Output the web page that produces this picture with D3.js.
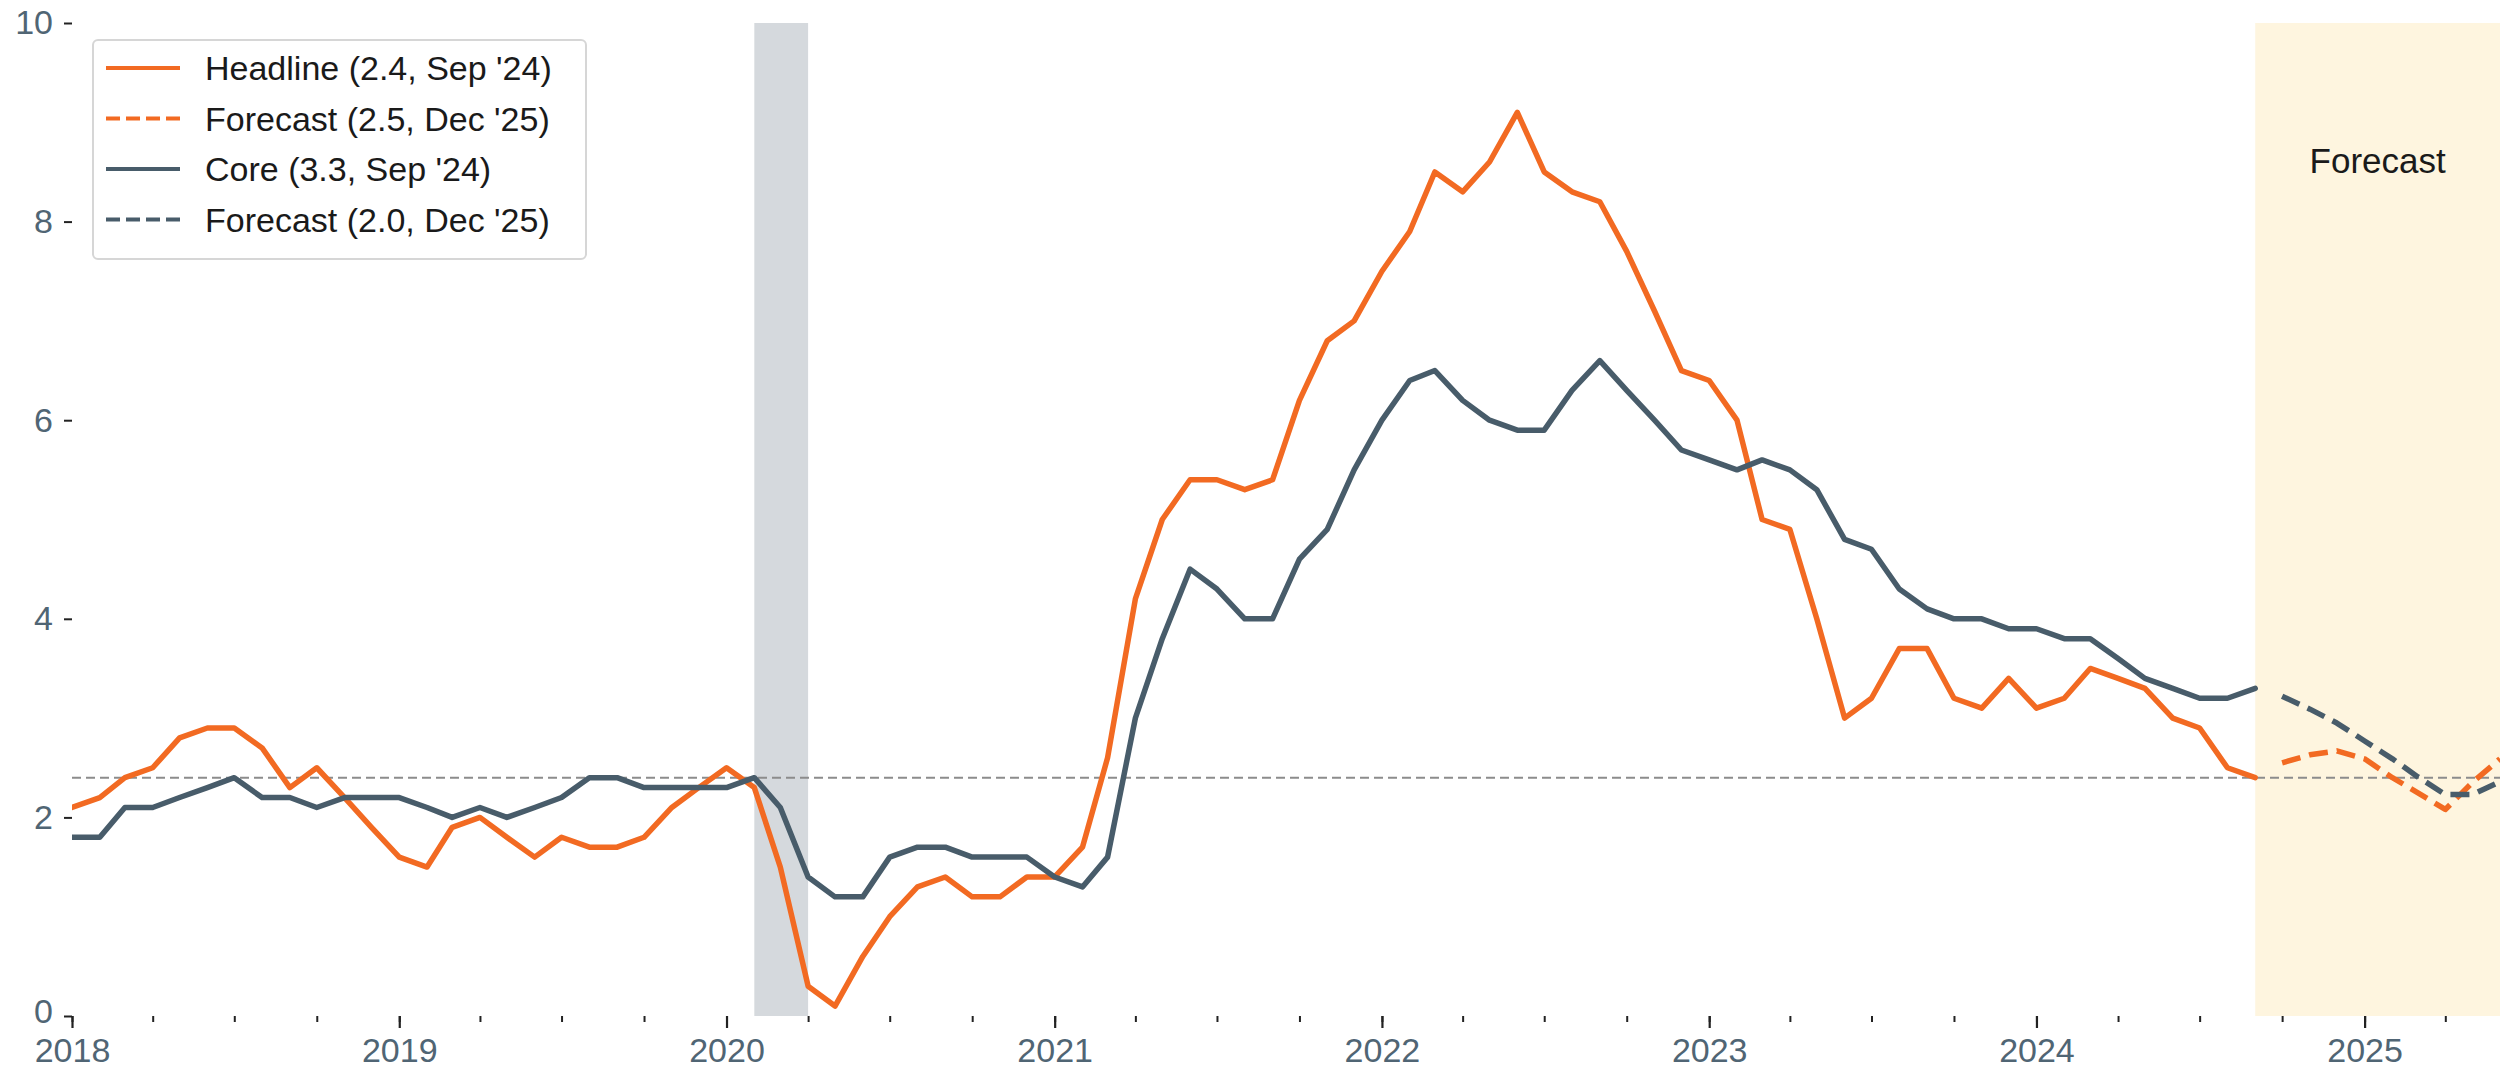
<!DOCTYPE html>
<html>
<head>
<meta charset="utf-8">
<script src="https://cdn.jsdelivr.net/npm/d3@7"></script>
<style>
  html, body { margin: 0; padding: 0; background: #ffffff; }
  svg { display: block; }
  text { font-family: "Liberation Sans", Arial, Helvetica, sans-serif; }
</style>
</head>
<body>
<svg id="chart" width="2505" height="1068"></svg>
<script>
// ---------------- DATA ----------------
const actualStart = "2018-01";          // first month of the actual series
const forecastStart = "2024-10";        // first month of the forecast series

const headline = [
  2.1, 2.2, 2.4, 2.5, 2.8, 2.9, 2.9, 2.7, 2.3, 2.5, 2.2, 1.9,   // 2018
  1.6, 1.5, 1.9, 2.0, 1.8, 1.6, 1.8, 1.7, 1.7, 1.8, 2.1, 2.3,   // 2019
  2.5, 2.3, 1.5, 0.3, 0.1, 0.6, 1.0, 1.3, 1.4, 1.2, 1.2, 1.4,   // 2020
  1.4, 1.7, 2.6, 4.2, 5.0, 5.4, 5.4, 5.3, 5.4, 6.2, 6.8, 7.0,   // 2021
  7.5, 7.9, 8.5, 8.3, 8.6, 9.1, 8.5, 8.3, 8.2, 7.7, 7.1, 6.5,   // 2022
  6.4, 6.0, 5.0, 4.9, 4.0, 3.0, 3.2, 3.7, 3.7, 3.2, 3.1, 3.4,   // 2023
  3.1, 3.2, 3.5, 3.4, 3.3, 3.0, 2.9, 2.5, 2.4                   // 2024
];
const core = [
  1.8, 1.8, 2.1, 2.1, 2.2, 2.3, 2.4, 2.2, 2.2, 2.1, 2.2, 2.2,   // 2018
  2.2, 2.1, 2.0, 2.1, 2.0, 2.1, 2.2, 2.4, 2.4, 2.3, 2.3, 2.3,   // 2019
  2.3, 2.4, 2.1, 1.4, 1.2, 1.2, 1.6, 1.7, 1.7, 1.6, 1.6, 1.6,   // 2020
  1.4, 1.3, 1.6, 3.0, 3.8, 4.5, 4.3, 4.0, 4.0, 4.6, 4.9, 5.5,   // 2021
  6.0, 6.4, 6.5, 6.2, 6.0, 5.9, 5.9, 6.3, 6.6, 6.3, 6.0, 5.7,   // 2022
  5.6, 5.5, 5.6, 5.5, 5.3, 4.8, 4.7, 4.3, 4.1, 4.0, 4.0, 3.9,   // 2023
  3.9, 3.8, 3.8, 3.6, 3.4, 3.3, 3.2, 3.2, 3.3                   // 2024
];
const headlineForecast = [2.55, 2.63, 2.67, 2.59, 2.40, 2.25, 2.08, 2.35, 2.59];
const coreForecast     = [3.22, 3.09, 2.95, 2.77, 2.59, 2.41, 2.23, 2.23, 2.36];

const referenceLevel = 2.4;
const recession = ["2020-02", "2020-04"];
const forecastPeriod = ["2024-09", "2025-06"];
const xDomain = ["2018-01", "2025-06"];
const yTicks = [0, 2, 4, 6, 8, 10];
const legendLabels = ["Headline (2.4, Sep '24)", "Forecast (2.5, Dec '25)", "Core (3.3, Sep '24)", "Forecast (2.0, Dec '25)"];
const forecastLabel = "Forecast";

// ---------------- STYLE ----------------
const W = 2505, H = 1068;
const M = { left: 72, right: 5, top: 23, bottom: 52 };
const ORANGE = "#f26a22";
const NAVY = "#485c6a";
const TICK_TEXT = "#506574";

const parse = d3.timeParse("%Y-%m");
const toSeries = (start, vals) => {
  const s = parse(start);
  return vals.map((v, i) => ({ date: d3.timeMonth.offset(s, i), value: v }));
};

const svg = d3.select("#chart");
const x = d3.scaleTime().domain(xDomain.map(parse)).range([M.left, W - M.right]);
const y = d3.scaleLinear().domain([0, 10]).range([H - M.bottom, M.top]);

const defs = svg.append("defs");
defs.append("clipPath").attr("id", "plotclip")
  .append("rect")
  .attr("x", M.left).attr("y", M.top - 10)
  .attr("width", W - M.right - M.left).attr("height", H - M.bottom - M.top + 20);

// shaded bands
svg.append("rect")
  .attr("x", x(parse(recession[0])))
  .attr("y", y(10))
  .attr("width", x(parse(recession[1])) - x(parse(recession[0])))
  .attr("height", y(0) - y(10))
  .attr("fill", "#d5d9dd");

svg.append("rect")
  .attr("x", x(parse(forecastPeriod[0])))
  .attr("y", y(10))
  .attr("width", x(parse(forecastPeriod[1])) - x(parse(forecastPeriod[0])))
  .attr("height", y(0) - y(10))
  .attr("fill", "#fef5df");

// reference line
svg.append("line")
  .attr("x1", x.range()[0]).attr("x2", x.range()[1])
  .attr("y1", y(referenceLevel)).attr("y2", y(referenceLevel))
  .attr("stroke", "#8c8c8c").attr("stroke-width", 2)
  .attr("stroke-dasharray", "9,5");

// lines
const line = d3.line().x(d => x(d.date)).y(d => y(d.value));
const plot = svg.append("g").attr("clip-path", "url(#plotclip)");

function drawLine(data, color, dashed) {
  plot.append("path")
    .datum(data)
    .attr("d", line)
    .attr("fill", "none")
    .attr("stroke", color)
    .attr("stroke-width", 5.5)
    .attr("stroke-linejoin", "round")
    .attr("stroke-linecap", dashed ? "butt" : "round")
    .attr("stroke-dasharray", dashed ? "19,9" : null);
}
drawLine(toSeries(actualStart, headline), ORANGE, false);
drawLine(toSeries(forecastStart, headlineForecast), ORANGE, true);
drawLine(toSeries(actualStart, core), NAVY, false);
drawLine(toSeries(forecastStart, coreForecast), NAVY, true);

// forecast label
svg.append("text")
  .attr("x", (x(parse(forecastPeriod[0])) + x(parse(forecastPeriod[1]))) / 2)
  .attr("y", 173)
  .attr("text-anchor", "middle")
  .attr("font-size", 35)
  .attr("fill", "#1a1a1a")
  .text(forecastLabel);

// axes
const xMajor = d3.axisBottom(x)
  .ticks(d3.timeYear.every(1))
  .tickFormat(d3.timeFormat("%Y"))
  .tickSize(12)
  .tickPadding(10);
const gx = svg.append("g").attr("transform", `translate(0,${y(0)})`).call(xMajor);
gx.select(".domain").remove();
gx.selectAll(".tick line").attr("stroke", "#222").attr("stroke-width", 2.2);
gx.selectAll(".tick text")
  .attr("font-size", 34)
  .attr("fill", TICK_TEXT)
  .attr("font-family", "Liberation Sans, Arial, sans-serif");

const xMinor = d3.axisBottom(x)
  .ticks(d3.timeMonth.every(3))
  .tickFormat("")
  .tickSize(6);
const gxm = svg.append("g").attr("transform", `translate(0,${y(0)})`).call(xMinor);
gxm.select(".domain").remove();
gxm.selectAll(".tick line").attr("stroke", "#222").attr("stroke-width", 2);

const yAxis = d3.axisLeft(y)
  .tickValues(yTicks)
  .tickFormat(d3.format("d"))
  .tickSize(8)
  .tickPadding(11);
const gy = svg.append("g").attr("transform", `translate(${M.left},0)`).call(yAxis);
gy.select(".domain").remove();
gy.selectAll(".tick line").attr("stroke", "#222").attr("stroke-width", 2);
gy.selectAll(".tick text")
  .attr("font-size", 34)
  .attr("fill", TICK_TEXT)
  .attr("font-family", "Liberation Sans, Arial, sans-serif");
// the "0" label sits just above the 2018 label, as in the reference
gy.selectAll(".tick text").filter(d => d === 0).attr("dy", "0.2em");

// legend
const legend = svg.append("g");
legend.append("rect")
  .attr("x", 93).attr("y", 40)
  .attr("width", 493).attr("height", 219)
  .attr("rx", 5)
  .attr("fill", "#ffffff").attr("fill-opacity", 0.9)
  .attr("stroke", "#d6d6d6").attr("stroke-width", 2);

const legendItems = [
  { label: legendLabels[0], color: ORANGE, dashed: false },
  { label: legendLabels[1], color: ORANGE, dashed: true },
  { label: legendLabels[2], color: NAVY, dashed: false },
  { label: legendLabels[3], color: NAVY, dashed: true }
];
legendItems.forEach((it, i) => {
  const cy = 68 + i * 50.5;
  legend.append("line")
    .attr("x1", 106).attr("x2", 180)
    .attr("y1", cy).attr("y2", cy)
    .attr("stroke", it.color).attr("stroke-width", 4)
    .attr("stroke-dasharray", it.dashed ? "14,6" : null);
  legend.append("text")
    .attr("x", 205).attr("y", cy)
    .attr("dy", "0.36em")
    .attr("font-size", 34)
    .attr("fill", "#1a1a1a")
    .text(it.label);
});
</script>
</body>
</html>
